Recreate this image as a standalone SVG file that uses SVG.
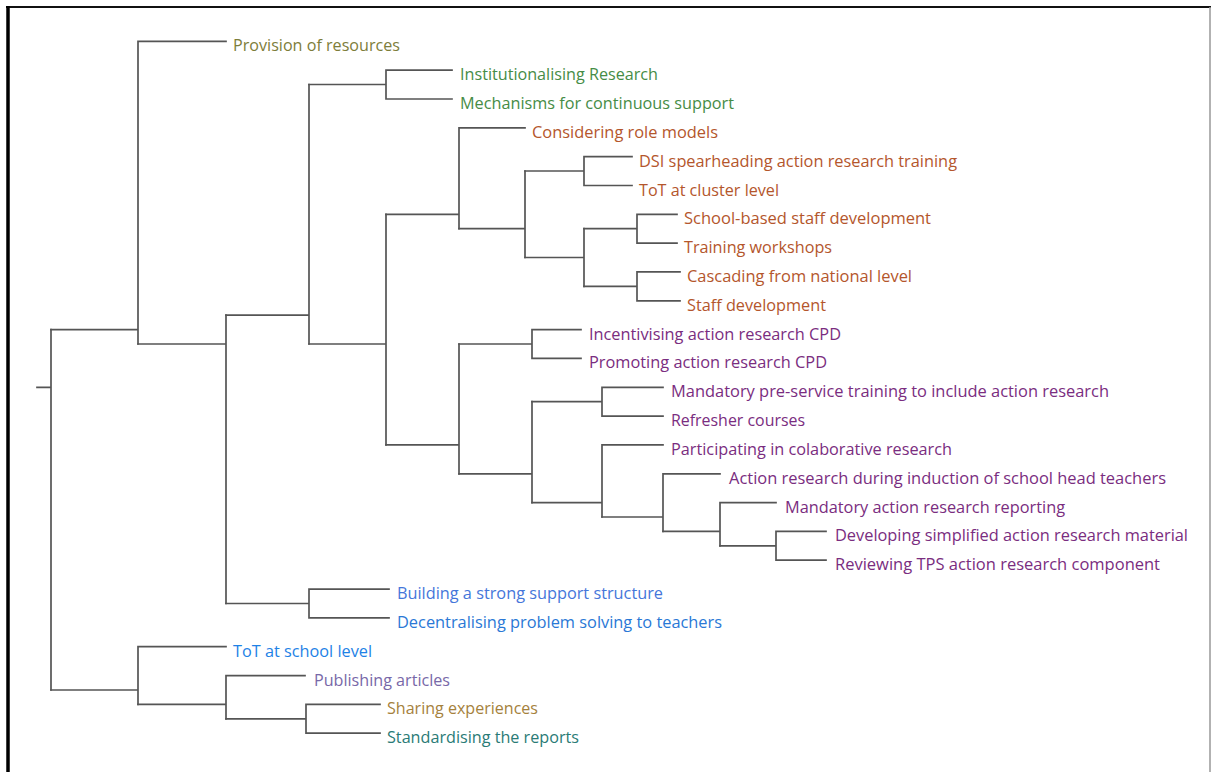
<svg xmlns="http://www.w3.org/2000/svg" width="1211" height="772" viewBox="0 0 1211 772">
  <style>
    .edge { fill: none; stroke: #555; stroke-width: 1.7; stroke-linecap: square; }
    .lbl { font-family: "Open Sans", "Noto Sans", sans-serif; font-size: 16px; }
    .c-olive { fill: #7d7d3a; }
    .c-green { fill: #468c46; }
    .c-rust { fill: #b4562c; }
    .c-plum { fill: #7a2d80; }
    .c-blue1 { fill: #4576da; }
    .c-blue2 { fill: #2a78d6; }
    .c-blue3 { fill: #1e82e6; }
    .c-lav { fill: #7868a8; }
    .c-gold { fill: #a5813c; }
    .c-teal { fill: #2a7b76; }
  </style>

  <rect x="0" y="0" width="1211" height="772" fill="#ffffff"/>

  <!-- frame -->
  <g id="frame">
    <line x1="6" y1="7" x2="1211" y2="7" stroke="#111" stroke-width="2"/>
    <line x1="8" y1="6" x2="8" y2="772" stroke="#000" stroke-width="3.5"/>
    <line x1="1210" y1="7" x2="1210" y2="772" stroke="#999" stroke-width="1.5"/>
  </g>

  <!-- dendrogram branches -->
  <g id="connectors" class="edge">
    <!-- root -->
    <path d="M37 387.3H51M51 329.6V690"/>
    <!-- upper cluster -->
    <path d="M51 329.6H138M138 41.3V344M138 41.3H226"/>
    <path d="M138 344H226M226 315.2V603.5"/>
    <path d="M226 315.2H309M309 84.5V344"/>
    <path d="M309 84.5H386M386 70.1V99M386 70.1H452M386 99H452"/>
    <path d="M309 344H386M386 214.3V444.9"/>
    <path d="M386 214.3H459M459 127.8V228.7M459 127.8H525"/>
    <path d="M459 228.7H525M525 171V257.5"/>
    <path d="M525 171H584M584 156.6V185.5M584 156.6H632M584 185.5H632"/>
    <path d="M525 257.5H584M584 228.7V286.4"/>
    <path d="M584 228.7H637M637 214.3V243.1M637 214.3H677M637 243.1H677"/>
    <path d="M584 286.4H637M637 271.9V300.8M637 271.9H680M637 300.8H680"/>
    <path d="M386 444.9H459M459 344V473.8"/>
    <path d="M459 344H532M532 329.6V358.4M532 329.6H581M532 358.4H581"/>
    <path d="M459 473.8H532M532 401.7V502.6"/>
    <path d="M532 401.7H602M602 387.3V416.1M602 387.3H663M602 416.1H663"/>
    <path d="M532 502.6H602M602 444.9V517M602 444.9H663"/>
    <path d="M602 517H663M663 473.8V531.4M663 473.8H720"/>
    <path d="M663 531.4H720M720 502.6V545.8M720 502.6H776"/>
    <path d="M720 545.8H776M776 531.4V560.2M776 531.4H826M776 560.2H826"/>
    <path d="M226 603.5H309M309 589.1V617.9M309 589.1H389M309 617.9H389"/>
    <!-- lower cluster -->
    <path d="M51 690H138M138 646.7V704.4M138 646.7H226"/>
    <path d="M138 704.4H226M226 675.6V718.8M226 675.6H305"/>
    <path d="M226 718.8H306M306 704.4V733.2M306 704.4H380M306 733.2H380"/>
  </g>

  <!-- leaf labels -->
  <g id="leaf-provision-of-resources"><text class="lbl c-olive" x="233" y="51.3" textLength="167" lengthAdjust="spacingAndGlyphs">Provision of resources</text></g>
  <g id="leaf-institutionalising-research"><text class="lbl c-green" x="460" y="80.1" textLength="198" lengthAdjust="spacingAndGlyphs">Institutionalising Research</text></g>
  <g id="leaf-mechanisms-support"><text class="lbl c-green" x="460" y="109" textLength="274" lengthAdjust="spacingAndGlyphs">Mechanisms for continuous support</text></g>
  <g id="leaf-role-models"><text class="lbl c-rust" x="532" y="137.8" textLength="186" lengthAdjust="spacingAndGlyphs">Considering role models</text></g>
  <g id="leaf-dsi-training"><text class="lbl c-rust" x="639" y="166.6" textLength="318" lengthAdjust="spacingAndGlyphs">DSI spearheading action research training</text></g>
  <g id="leaf-tot-cluster"><text class="lbl c-rust" x="639" y="195.5" textLength="140" lengthAdjust="spacingAndGlyphs">ToT at cluster level</text></g>
  <g id="leaf-school-based-staff-dev"><text class="lbl c-rust" x="684" y="224.3" textLength="247" lengthAdjust="spacingAndGlyphs">School-based staff development</text></g>
  <g id="leaf-training-workshops"><text class="lbl c-rust" x="684" y="253.1" textLength="148" lengthAdjust="spacingAndGlyphs">Training workshops</text></g>
  <g id="leaf-cascading"><text class="lbl c-rust" x="687" y="281.9" textLength="225" lengthAdjust="spacingAndGlyphs">Cascading from national level</text></g>
  <g id="leaf-staff-development"><text class="lbl c-rust" x="687" y="310.8" textLength="139" lengthAdjust="spacingAndGlyphs">Staff development</text></g>
  <g id="leaf-incentivising-cpd"><text class="lbl c-plum" x="589" y="339.6" textLength="252" lengthAdjust="spacingAndGlyphs">Incentivising action research CPD</text></g>
  <g id="leaf-promoting-cpd"><text class="lbl c-plum" x="589" y="368.4" textLength="238" lengthAdjust="spacingAndGlyphs">Promoting action research CPD</text></g>
  <g id="leaf-pre-service"><text class="lbl c-plum" x="671" y="397.3" textLength="438" lengthAdjust="spacingAndGlyphs">Mandatory pre-service training to include action research</text></g>
  <g id="leaf-refresher"><text class="lbl c-plum" x="671" y="426.1" textLength="134" lengthAdjust="spacingAndGlyphs">Refresher courses</text></g>
  <g id="leaf-collaborative"><text class="lbl c-plum" x="671" y="454.9" textLength="281" lengthAdjust="spacingAndGlyphs">Participating in colaborative research</text></g>
  <g id="leaf-induction"><text class="lbl c-plum" x="729" y="483.8" textLength="437" lengthAdjust="spacingAndGlyphs">Action research during induction of school head teachers</text></g>
  <g id="leaf-reporting"><text class="lbl c-plum" x="785" y="512.6" textLength="280" lengthAdjust="spacingAndGlyphs">Mandatory action research reporting</text></g>
  <g id="leaf-simplified-material"><text class="lbl c-plum" x="835" y="541.4" textLength="353" lengthAdjust="spacingAndGlyphs">Developing simplified action research material</text></g>
  <g id="leaf-tps-component"><text class="lbl c-plum" x="835" y="570.2" textLength="325" lengthAdjust="spacingAndGlyphs">Reviewing TPS action research component</text></g>
  <g id="leaf-support-structure"><text class="lbl c-blue1" x="397" y="599.1" textLength="266" lengthAdjust="spacingAndGlyphs">Building a strong support structure</text></g>
  <g id="leaf-decentralising"><text class="lbl c-blue2" x="397" y="627.9" textLength="325" lengthAdjust="spacingAndGlyphs">Decentralising problem solving to teachers</text></g>
  <g id="leaf-tot-school"><text class="lbl c-blue3" x="233" y="656.7" textLength="139" lengthAdjust="spacingAndGlyphs">ToT at school level</text></g>
  <g id="leaf-publishing"><text class="lbl c-lav" x="314" y="685.6" textLength="136" lengthAdjust="spacingAndGlyphs">Publishing articles</text></g>
  <g id="leaf-sharing"><text class="lbl c-gold" x="387" y="714.4" textLength="151" lengthAdjust="spacingAndGlyphs">Sharing experiences</text></g>
  <g id="leaf-standardising"><text class="lbl c-teal" x="387" y="743.2" textLength="192" lengthAdjust="spacingAndGlyphs">Standardising the reports</text></g>
</svg>
